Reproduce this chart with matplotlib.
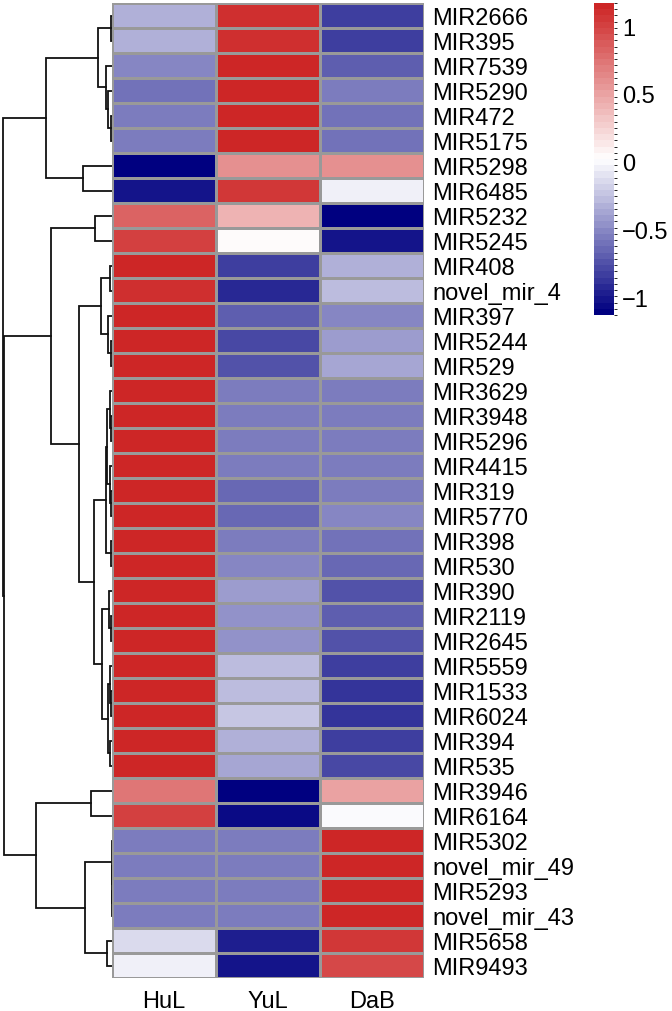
import numpy as np
import matplotlib
matplotlib.use("Agg")
import matplotlib.pyplot as plt
from matplotlib.colors import LinearSegmentedColormap, ListedColormap, BoundaryNorm

plt.rcParams['font.family'] = ['Liberation Sans', 'DejaVu Sans']

# row-scaled expression (z-score), rows top -> bottom
GENES = ["MIR2666", "MIR395", "MIR7539", "MIR5290", "MIR472", "MIR5175",
         "MIR5298", "MIR6485", "MIR5232", "MIR5245", "MIR408", "novel_mir_4",
         "MIR397", "MIR5244", "MIR529", "MIR3629", "MIR3948", "MIR5296",
         "MIR4415", "MIR319", "MIR5770", "MIR398", "MIR530", "MIR390",
         "MIR2119", "MIR2645", "MIR5559", "MIR1533", "MIR6024", "MIR394",
         "MIR535", "MIR3946", "MIR6164", "MIR5302", "novel_mir_49", "MIR5293",
         "novel_mir_43", "MIR5658", "MIR9493"]
SAMPLES = ["HuL", "YuL", "DaB"]

HUL = [-0.31, -0.31, -0.51, -0.60, -0.57, -0.57, -1.13, -1.00, 0.81, 1.03,
       1.15, 1.12, 1.15, 1.15, 1.15, 1.155, 1.155, 1.155, 1.155, 1.155,
       1.155, 1.155, 1.155, 1.15, 1.15, 1.15, 1.14, 1.13, 1.13, 1.14,
       1.14, 0.73, 1.01, -0.577, -0.577, -0.577, -0.577, -0.12, -0.04]
YUL = [1.12, 1.12, 1.15, 1.15, 1.155, 1.155, 0.58, 1.06, 0.43, 0.03,
       -0.83, -0.90, -0.70, -0.78, -0.75, -0.577, -0.577, -0.577, -0.577, -0.63,
       -0.65, -0.55, -0.51, -0.41, -0.47, -0.44, -0.30, -0.26, -0.25, -0.32,
       -0.37, -1.13, -1.05, -0.577, -0.577, -0.577, -0.577, -0.95, -1.00]
DAB = [-0.81, -0.81, -0.69, -0.57, -0.60, -0.60, 0.58, -0.06, -1.13, -1.00,
       -0.32, -0.26, -0.50, -0.42, -0.39, -0.577, -0.577, -0.577, -0.577, -0.55,
       -0.53, -0.60, -0.65, -0.76, -0.69, -0.72, -0.85, -0.87, -0.88, -0.82,
       -0.78, 0.51, 0.02, 1.155, 1.155, 1.155, 1.155, 1.05, 0.98]

# row dendrogram: (node a, node b, height); leaves 0..38, merge k -> id 39+k
MERGES = [(0, 1, 0.5), (4, 5, 1.0), (3, 40, 3.3), (2, 41, 5.7), (39, 42, 14),
          (6, 7, 29), (43, 44, 65.3), (8, 9, 17), (10, 11, 2), (13, 14, 1),
          (12, 48, 4), (47, 49, 11), (16, 17, 1), (15, 51, 2), (19, 20, 0.8),
          (18, 53, 1.5), (52, 54, 5), (21, 22, 1), (55, 56, 6), (24, 25, 1),
          (23, 58, 3), (27, 28, 1), (26, 60, 2), (29, 30, 1.5), (61, 62, 4),
          (59, 63, 10), (57, 64, 18), (50, 65, 33), (46, 66, 61), (31, 32, 21),
          (35, 36, 0), (34, 69, 0), (33, 70, 0), (37, 38, 4.3), (71, 72, 27),
          (68, 73, 75.3), (67, 74, 107.8), (45, 75, 108.3)]

VMIN, VMAX = -1.13, 1.17
CB_TICKS = [-1, -0.5, 0, 0.5, 1]

data = np.column_stack([HUL, YUL, DAB])
nrow, ncol = data.shape

# navy -> white -> firebrick3, 50 steps (pheatmap style)
base = LinearSegmentedColormap.from_list("nwf", ["#000080", "#FFFFFF", "#CD2626"])
cmap = ListedColormap(base(np.linspace(0, 1, 50)))
bounds = np.linspace(VMIN, VMAX, 51)
norm = BoundaryNorm(bounds, cmap.N)

W, H = 672, 1012
fig = plt.figure(figsize=(W / 100, H / 100), dpi=100)

def px_axes(x0, y0, x1, y1):
    return fig.add_axes([x0 / W, 1 - y1 / H, (x1 - x0) / W, (y1 - y0) / H])

hm_l, hm_r, hm_t, hm_b = 111.7, 424, 4, 979
ax = px_axes(hm_l, hm_t, hm_r, hm_b)
ax.pcolormesh(np.arange(ncol + 1), np.arange(nrow + 1), data, cmap=cmap,
              norm=norm, edgecolors="#999999", linewidth=1.0)
ax.set_xlim(0, ncol)
ax.set_ylim(nrow, 0)
ax.set_xticks(np.arange(ncol) + 0.5)
ax.set_xticklabels(SAMPLES, fontsize=17)
ax.set_yticks(np.arange(nrow) + 0.5)
ax.set_yticklabels(GENES, fontsize=17)
ax.yaxis.tick_right()
ax.tick_params(length=0, pad=6)
ax.tick_params(axis="x", pad=9)
for s in ax.spines.values():
    s.set_visible(False)

# dendrogram
dax = px_axes(0, hm_t, hm_l, hm_b)
pos = {i: i + 0.5 for i in range(nrow)}
hgt = {i: 0.0 for i in range(nrow)}
for k, (a, b, h) in enumerate(MERGES):
    nid = nrow + k
    dax.plot([hgt[a], h, h, hgt[b]], [pos[a], pos[a], pos[b], pos[b]],
             color="#111111", lw=1.3, solid_joinstyle="miter")
    pos[nid] = (pos[a] + pos[b]) / 2
    hgt[nid] = h
dax.set_xlim(hm_l, 0)
dax.set_ylim(nrow, 0)
dax.axis("off")

# colour legend
cax = px_axes(594, 4, 614, 316)
cb = fig.colorbar(plt.cm.ScalarMappable(norm=norm, cmap=cmap), cax=cax,
                  ticks=CB_TICKS, boundaries=bounds, drawedges=False)
cb.outline.set_visible(False)
cb.ax.tick_params(length=0, labelsize=17, pad=6)
cb.ax.set_yticklabels(["\u22121", "\u22120.5", "0", "0.5", "1"])

fig.savefig("out.png", dpi=100)
